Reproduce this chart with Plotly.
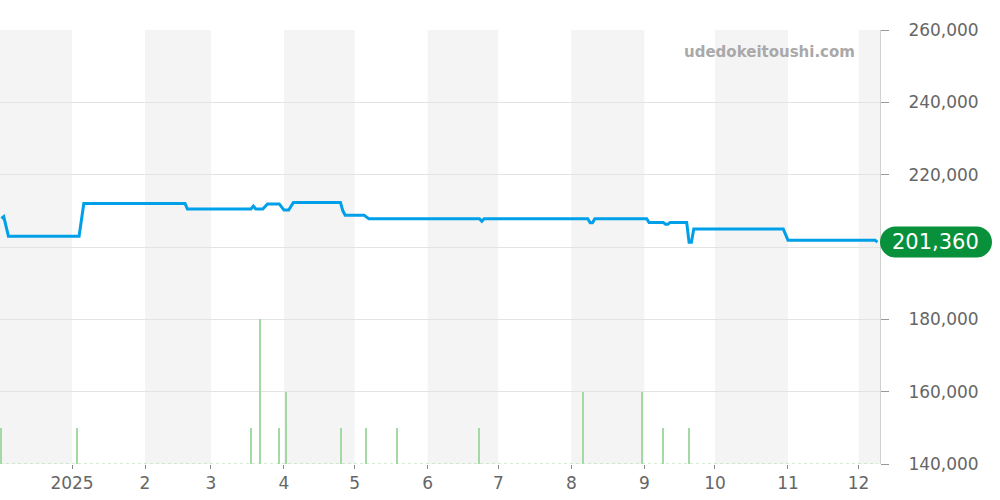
import plotly.graph_objects as go
import pandas as pd

# ---- data ----
price_dates = [
    "2024-12-02", "2024-12-03", "2024-12-05", "2025-01-04", "2025-01-06",
    "2025-02-18", "2025-02-19", "2025-03-18", "2025-03-19", "2025-03-20",
    "2025-03-23", "2025-03-25", "2025-03-30", "2025-04-01", "2025-04-03",
    "2025-04-05", "2025-04-25", "2025-04-26", "2025-04-27", "2025-05-05",
    "2025-05-07", "2025-06-23", "2025-06-24", "2025-06-25", "2025-08-08",
    "2025-08-09", "2025-08-10", "2025-08-11", "2025-09-02", "2025-09-03",
    "2025-09-09", "2025-09-10", "2025-09-11", "2025-09-12", "2025-09-19",
    "2025-09-20", "2025-09-21", "2025-09-22", "2025-10-30", "2025-11-01",
    "2025-12-08", "2025-12-09",
]
price_values = [
    207900, 208400, 203000, 203000, 212000,
    212000, 210500, 210500, 211300, 210500,
    210500, 211900, 211900, 210200, 210200,
    212300, 212300, 210000, 208800, 208800,
    207800, 207800, 207100, 207800, 207800,
    206700, 206700, 207800, 207800, 206800,
    206800, 206300, 206300, 206800, 206800,
    201300, 201300, 205000, 205000, 201900,
    201900, 201360,
]

volume_dates = [
    "2024-12-02", "2025-01-03", "2025-03-18", "2025-03-22", "2025-03-30",
    "2025-04-02", "2025-04-25", "2025-05-06", "2025-05-19", "2025-06-23",
    "2025-08-06", "2025-08-31", "2025-09-09", "2025-09-20",
]
volume_values = [1, 1, 1, 4, 1, 2, 1, 1, 1, 1, 2, 2, 1, 1]

month_starts = pd.date_range("2024-12-01", "2025-12-01", freq="MS")
tick_dates = pd.date_range("2025-01-01", "2025-12-01", freq="MS")
tick_labels = ["2025", "2", "3", "4", "5", "6", "7", "8", "9", "10", "11", "12"]
y_ticks = [140000, 160000, 180000, 200000, 220000, 240000, 260000]

x_range = ["2024-12-01 10:00", "2025-12-10 02:00"]
y_range = [140000, 260000]

FONT = "DejaVu Sans"

fig = go.Figure()

# volume bars (secondary axis)
fig.add_trace(go.Scatter(
    x=[x_range[0], price_dates[-1]], y=[0, 0], yaxis="y2", mode="lines",
    line=dict(color="#a8dba8", width=1, dash="dot"), hoverinfo="skip",
    showlegend=False,
))
fig.add_trace(go.Bar(
    x=pd.to_datetime(volume_dates), y=volume_values, yaxis="y2",
    marker=dict(color="#a3daa3", line=dict(width=0)),
    width=0.85 * 86400000, showlegend=False,
))

# price line
fig.add_trace(go.Scatter(
    x=pd.to_datetime(price_dates), y=price_values, mode="lines",
    line=dict(color="#00a0e9", width=3), showlegend=False,
))

# alternating month bands
shapes = []
end = pd.Timestamp(x_range[1])
for i, ms in enumerate(month_starts):
    if ms.month % 2 == 0:
        nxt = month_starts[i + 1] if i + 1 < len(month_starts) else end
        shapes.append(dict(
            type="rect", xref="x", yref="paper", x0=ms, x1=min(nxt, end),
            y0=0, y1=1, fillcolor="#f4f4f4", line=dict(width=0), layer="below",
        ))

# badge for the latest price (rounded pill)
last = price_values[-1]
yc = (last - y_range[0]) / (y_range[1] - y_range[0])
plot_w, plot_h = 880, 434
xl, xr = 1.0, 992 / plot_w
rx, ry = 15.5 / plot_w, 15.5 / plot_h
k = 0.5523
path = (
    f"M {xl+rx},{yc+ry} L {xr-rx},{yc+ry} "
    f"C {xr-rx+k*rx},{yc+ry} {xr},{yc+k*ry} {xr},{yc} "
    f"C {xr},{yc-k*ry} {xr-rx+k*rx},{yc-ry} {xr-rx},{yc-ry} "
    f"L {xl+rx},{yc-ry} "
    f"C {xl+rx-k*rx},{yc-ry} {xl},{yc-k*ry} {xl},{yc} "
    f"C {xl},{yc+k*ry} {xl+rx-k*rx},{yc+ry} {xl+rx},{yc+ry} Z"
)
shapes.append(dict(type="path", xref="paper", yref="paper", path=path,
                   fillcolor="#08913a", line=dict(width=0), layer="above"))

annotations = [
    dict(xref="paper", yref="paper", x=(xl + xr) / 2, y=yc, text=f"{last:,}",
         showarrow=False, font=dict(family=FONT, size=21, color="white"),
         xanchor="center", yanchor="middle"),
    dict(xref="paper", yref="paper", x=857 / plot_w, y=(464 - 52) / plot_h,
         text="udedokeitoushi.com", showarrow=False, xanchor="right",
         yanchor="middle",
         font=dict(family=FONT, size=15, color="#a9a9a9", weight="bold")),
]

# the badge hides the 200,000 label in the reference
y_ticktext = ["" if v == 200000 else f"{v:,}" for v in y_ticks]

fig.update_layout(
    width=1000, height=500,
    margin=dict(l=0, r=120, t=30, b=36),
    paper_bgcolor="white", plot_bgcolor="white",
    shapes=shapes, annotations=annotations,
    bargap=0, showlegend=False,
    font=dict(family=FONT, color="#666666"),
    xaxis=dict(
        type="date", range=x_range, tickvals=tick_dates, ticktext=tick_labels,
        showgrid=False, zeroline=False, showline=False,
        ticks="outside", ticklen=4, tickcolor="#888888",
        tickfont=dict(family=FONT, size=17, color="#666666"),
    ),
    yaxis=dict(
        range=y_range, side="right", tickvals=y_ticks, ticktext=y_ticktext,
        showgrid=True, gridcolor="#e3e3e3", gridwidth=1, zeroline=False,
        showline=True, linecolor="#d0d0d0", linewidth=1,
        ticks="outside", ticklen=8, tickcolor="#999999",
        tickfont=dict(family=FONT, size=17, color="#666666"),
        ticklabelstandoff=16,
    ),
    yaxis2=dict(range=[0, 12], overlaying="y", visible=False),
)

fig.write_html("out.html",
               config={"displayModeBar": False},
               post_script="document.body.style.margin='0';")
